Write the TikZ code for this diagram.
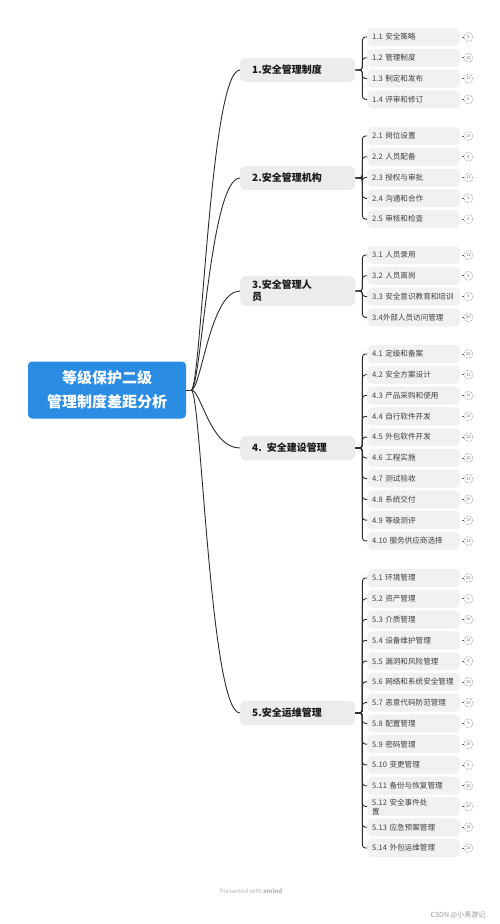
\documentclass[tikz,border=0pt]{standalone}
\usepackage{fontspec}
\setmainfont{Noto Sans CJK SC}
\usetikzlibrary{calc}

\definecolor{azul}{RGB}{42,140,226}
\definecolor{cinza}{RGB}{236,236,236}
\definecolor{cinzaclaro}{RGB}{241,241,241}
\definecolor{linha}{RGB}{45,45,45}

\tikzset{
  raiz/.style={fill=azul, rounded corners=4pt, text=white, align=center,
    font=\bfseries\fontsize{15}{24}\selectfont, minimum width=158pt, minimum height=57pt},
  tema/.style={anchor=west, fill=cinza, rounded corners=5pt, align=left,
    font=\bfseries\fontsize{10}{12}\selectfont, text=black!90,
    minimum width=115pt, minimum height=24pt, text width=91pt, inner xsep=12pt, inner ysep=4pt},
  sub/.style={anchor=west, fill=cinzaclaro, rounded corners=5pt, align=left,
    font=\fontsize{7.6}{9}\selectfont, text=black!75,
    minimum width=93pt, minimum height=18pt, text width=83pt, inner xsep=5pt, inner ysep=1.5pt},
  num/.style={circle, draw=black!60, densely dotted, line width=0.5pt, inner sep=0pt,
    minimum size=9pt, font=\fontsize{4}{4}\selectfont, text=black!60},
  liga/.style={draw=linha, line width=0.9pt},
  fio/.style={draw=black!60, line width=0.6pt, shorten <=2pt},
}

\begin{document}
\begin{tikzpicture}[x=1pt, y=-1pt]
  \useasboundingbox[fill=white] (0,0) rectangle (500,924);
  % distancia entre os subtopicos
  \def\passo{20.77}

  % Topico central
  \node[raiz] (raiz) at (107,390) {等级保护二级\\管理制度差距分析};

  % Topicos principais
  \node[tema] (t1) at (240,70) {1.安全管理制度};
  \node[tema] (t2) at (240,178) {2.安全管理机构};
  \node[tema] (t3) at (240,291) {3.安全管理人\\员};
  \node[tema] (t4) at (240,448) {4. 安全建设管理};
  \node[tema] (t5) at (240,713) {5.安全运维管理};

  % Ligacoes do centro
  \coordinate (r) at ($(raiz.east)+(5,0)$);
  \draw[liga] (raiz.east) -- (r);
  \foreach \k in {1,...,5}{
    \draw[liga] (r) .. controls +(10,0) and +(-30,0) .. (t\k.west);
  }

  % Grupo 1
  \foreach \txt/\n [count=\i] in {1.1~安全策略/5, 1.2~管理制度/10, 1.3~制定和发布/11, 1.4~评审和修订/6}{
    \node[sub] (a\i) at (367,{37+(\i-1)*\passo}) {\txt};
    \node[num] (na\i) at ($(a\i.east)+(8,0)$) {\n};
    \draw[fio] (a\i.east) -- (na\i.west);
    \draw[liga, rounded corners=3pt] (t1.east) -- ++(7,0) |- (a\i.west);
  }

  % Grupo 2
  \foreach \txt/\n [count=\i] in {2.1~岗位设置/13, 2.2~人员配备/6, 2.3~授权与审批/11, 2.4~沟通和合作/5, 2.5~审核和检查/6}{
    \node[sub] (b\i) at (367,{136+(\i-1)*\passo}) {\txt};
    \node[num] (nb\i) at ($(b\i.east)+(8,0)$) {\n};
    \draw[fio] (b\i.east) -- (nb\i.west);
    \draw[liga, rounded corners=3pt] (t2.east) -- ++(7,0) |- (b\i.west);
  }

  % Grupo 3
  \foreach \txt/\n [count=\i] in {3.1~人员录用/12, 3.2~人员离岗/5, 3.3~安全意识教育和培训/6, 3.4外部人员访问管理/20}{
    \node[sub] (c\i) at (367,{255+(\i-1)*\passo}) {\txt};
    \node[num] (nc\i) at ($(c\i.east)+(8,0)$) {\n};
    \draw[fio] (c\i.east) -- (nc\i.west);
    \draw[liga, rounded corners=3pt] (t3.east) -- ++(7,0) |- (c\i.west);
  }

  % Grupo 4
  \foreach \txt/\n [count=\i] in {4.1~定级和备案/20, 4.2~安全方案设计/11, 4.3~产品采购和使用/11,
      4.4~自行软件开发/11, 4.5~外包软件开发/12, 4.6~工程实施/10, 4.7~测试验收/11,
      4.8~系统交付/10, 4.9~等级测评/17, 4.10~服务供应商选择/13}{
    \node[sub] (d\i) at (367,{354+(\i-1)*\passo}) {\txt};
    \node[num] (nd\i) at ($(d\i.east)+(8,0)$) {\n};
    \draw[fio] (d\i.east) -- (nd\i.west);
    \draw[liga, rounded corners=3pt] (t4.east) -- ++(7,0) |- (d\i.west);
  }

  % Grupo 5
  \foreach \txt/\n [count=\i] in {5.1~环境管理/20, 5.2~资产管理/5, 5.3~介质管理/10,
      5.4~设备维护管理/12, 5.5~漏洞和风险管理/6, 5.6~网络和系统安全管理/20,
      5.7~恶意代码防范管理/15, 5.8~配置管理/5, 5.9~密码管理/10, 5.10~变更管理/6,
      5.11~备份与恢复管理/10, 5.12~安全事件处\\置/10, 5.13~应急预案管理/12, 5.14~外包运维管理/11}{
    \node[sub] (e\i) at (367,{578+(\i-1)*\passo}) {\txt};
    \node[num] (ne\i) at ($(e\i.east)+(8,0)$) {\n};
    \draw[fio] (e\i.east) -- (ne\i.west);
    \draw[liga, rounded corners=3pt] (t5.east) -- ++(7,0) |- (e\i.west);
  }

  % Rodape
  \node[font=\fontsize{6}{6}\selectfont, text=black!30] (rodape) at (251,891) {Presented with \textbf{xmind}};
  \node[font=\fontsize{7}{7}\selectfont, text=black!40] (marca) at (458,915) {CSDN @小黑游记};
\end{tikzpicture}
\end{document}
